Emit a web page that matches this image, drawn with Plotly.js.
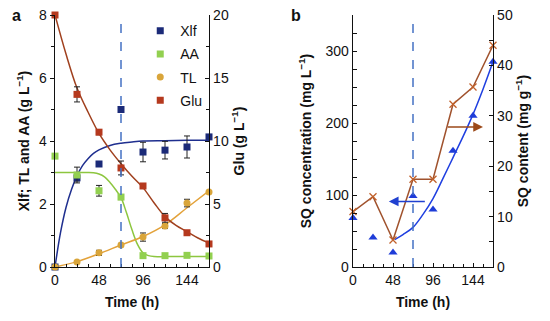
<!DOCTYPE html>
<html>
<head>
<meta charset="utf-8">
<script src="https://cdn.plot.ly/plotly-3.0.1.min.js"></script>
<style>html,body{margin:0;padding:0;background:#fff;}#chart{width:550px;height:321px;}</style>
</head>
<body>
<div id="chart"></div>
<script>
// ---- Panel a data ----
const time = [0, 24, 48, 72, 96, 120, 144, 168];
const xlf = [0, 2.83, 3.27, 5.0, 3.65, 3.71, 3.81, 4.13];
const xlfErr = [0, 0.1, 0.08, 0.08, 0.31, 0.28, 0.35, 0.05];
const aa = [3.52, 2.92, 2.42, 2.22, 0.36, 0.36, 0.37, 0.35];
const aaErr = [0, 0.25, 0.17, 0.08, 0.04, 0.03, 0.03, 0.03];
const tl = [0, 0.16, 0.45, 0.70, 0.95, 1.30, 2.03, 2.38];
const tlErr = [0, 0.03, 0.08, 0.05, 0.13, 0.08, 0.12, 0.05];
const glu = [20, 13.7, 10.7, 7.86, 6.43, 3.9, 2.72, 1.83];
const gluErr = [0, 0.6, 0.2, 0.55, 0.15, 0.35, 0.15, 0.15];

// fitted curves
const xlfFitT = [0, 6, 12, 18, 24, 30, 36, 42, 48, 60, 72, 84, 96, 120, 144, 168];
const xlfFit = [0, 1.09, 1.89, 2.46, 2.9, 3.22, 3.44, 3.61, 3.72, 3.86, 3.93, 3.97, 4.0, 4.01, 4.02, 4.02];
const aaFitT = [0, 12, 24, 36, 42, 48, 54, 60, 66, 72, 78, 84, 90, 96, 102, 108, 120, 144, 168];
const aaFit = [3.0, 3.0, 3.0, 3.0, 2.99, 2.95, 2.86, 2.68, 2.46, 2.2, 1.72, 1.18, 0.72, 0.45, 0.36, 0.33, 0.33, 0.33, 0.33];
const tlFitT = [0, 24, 48, 72, 96, 120, 144, 168];
const tlFit = [0, 0.17, 0.42, 0.70, 0.97, 1.34, 1.88, 2.42];
const gluFitT = [0, 12, 24, 36, 48, 60, 72, 84, 96, 108, 120, 132, 144, 156, 168];
const gluFit = [20, 16.9, 14.2, 12.3, 10.6, 9.3, 8.2, 7.2, 6.3, 5.1, 4.0, 3.3, 2.8, 2.3, 1.9];

// ---- Panel b data ----
const sqConc = [68, 41, 20, 98.6, 80, 161.5, 210, 285];
const sqContent = [11.0, 13.95, 5.36, 17.4, 17.4, 32.3, 35.7, 44.0];
const sqFitT = [50, 60, 72, 84, 96, 108, 120, 132, 144, 156, 168];
const sqFit = [38, 45, 55, 73, 95, 123, 152, 181, 212, 247, 285];

const navy = '#1B2A78', green = '#92D050', gold = '#D9A53A', red = '#B5391E';
const font = 'Liberation Sans, Arial, sans-serif';

function errY(a){ return {type:'data', array:a, visible:true, color:'#222', thickness:1, width:3}; }

const traces = [
  {x:xlfFitT, y:xlfFit, mode:'lines', line:{color:'#1F2F8F', width:1.5, shape:'spline'}, xaxis:'x', yaxis:'y', showlegend:false, hoverinfo:'skip'},
  {x:aaFitT, y:aaFit, mode:'lines', line:{color:'#8DC63F', width:1.5, shape:'spline'}, xaxis:'x', yaxis:'y', showlegend:false, hoverinfo:'skip'},
  {x:tlFitT, y:tlFit, mode:'lines', line:{color:'#E3A23A', width:1.5, shape:'spline'}, xaxis:'x', yaxis:'y', showlegend:false, hoverinfo:'skip'},
  {x:gluFitT, y:gluFit, mode:'lines', line:{color:'#A0401E', width:1.5, shape:'spline'}, xaxis:'x', yaxis:'y2', showlegend:false, hoverinfo:'skip'},
  {x:time, y:xlf, name:'Xlf', mode:'markers', marker:{symbol:'square', size:7, color:navy}, error_y:errY(xlfErr), xaxis:'x', yaxis:'y', legendgroup:'g1', cliponaxis:false},
  {x:time, y:aa, name:'AA', mode:'markers', marker:{symbol:'square', size:7, color:green}, error_y:errY(aaErr), xaxis:'x', yaxis:'y', legendgroup:'g2', cliponaxis:false},
  {x:time, y:tl, name:'TL', mode:'markers', marker:{symbol:'circle', size:7, color:gold}, error_y:errY(tlErr), xaxis:'x', yaxis:'y', legendgroup:'g3', cliponaxis:false},
  {x:time, y:glu, name:'Glu', mode:'markers', marker:{symbol:'square', size:7, color:red}, error_y:errY(gluErr), xaxis:'x', yaxis:'y2', legendgroup:'g4', cliponaxis:false},
  // panel b
  {x:sqFitT, y:sqFit, mode:'lines', line:{color:'#1F3FE0', width:1.5, shape:'spline'}, xaxis:'x2', yaxis:'y3', showlegend:false, hoverinfo:'skip'},
  {x:time, y:sqConc, mode:'markers', marker:{symbol:'triangle-up', size:8, color:'#1E3CD8'}, xaxis:'x2', yaxis:'y3', showlegend:false, cliponaxis:false},
  {x:time, y:sqContent, mode:'lines+markers', line:{color:'#A0522D', width:1.5}, marker:{symbol:'x-thin', size:7, color:'#C0602A', line:{color:'#C0602A', width:1.3}}, xaxis:'x2', yaxis:'y4', showlegend:false, cliponaxis:false}
];

const tickF = {family:font, size:14, color:'#111'};
const titleF = {family:font, size:14, color:'#111'};
const yDom = [54/321, 306/321];

const layout = {
  width:550, height:321,
  margin:{l:0, r:0, t:0, b:0},
  paper_bgcolor:'#fff', plot_bgcolor:'rgba(0,0,0,0)',
  font:{family:font, color:'#111'},
  showlegend:true,
  legend:{x:0.255, y:0.953, xanchor:'left', yanchor:'top', bgcolor:'rgba(0,0,0,0)', font:{family:font, size:14}, tracegroupgap:2, itemwidth:30},
  xaxis:{domain:[55/550, 209/550], range:[0,168], tickvals:[0,48,96,144], showline:true, linecolor:'#111', linewidth:1.3, ticks:'inside', ticklen:4, tickcolor:'#111', minor:{dtick:12, ticks:'inside', ticklen:3, tickcolor:'#111'}, showgrid:false, zeroline:false, tickfont:tickF, title:{text:'<b>Time (h)</b>', font:titleF, standoff:10}, anchor:'y'},
  yaxis:{domain:yDom, range:[0,8], dtick:2, showline:true, linecolor:'#111', linewidth:1.3, ticks:'outside', ticklen:4, tickcolor:'#111', minor:{dtick:1, ticks:'outside', ticklen:3, tickcolor:'#111'}, showgrid:false, zeroline:false, tickfont:tickF, title:{text:'<b>Xlf; TL and AA (g L<sup>−1</sup>)</b>', font:titleF, standoff:6}, anchor:'x'},
  yaxis2:{domain:yDom, range:[0,20], dtick:5, overlaying:'y', side:'right', showline:true, linecolor:'#111', linewidth:1.3, ticks:'inside', ticklen:4, tickcolor:'#111', minor:{dtick:2.5, ticks:'inside', ticklen:3, tickcolor:'#111'}, showgrid:false, zeroline:false, tickfont:tickF, title:{text:'<b>Glu (g L<sup>−1</sup>)</b>', font:titleF, standoff:6}, anchor:'x'},
  xaxis2:{domain:[353/550, 493/550], range:[0,168], tickvals:[0,48,96,144], showline:true, linecolor:'#111', linewidth:1.3, ticks:'inside', ticklen:4, tickcolor:'#111', minor:{dtick:12, ticks:'inside', ticklen:3, tickcolor:'#111'}, showgrid:false, zeroline:false, tickfont:tickF, title:{text:'<b>Time (h)</b>', font:titleF, standoff:10}, anchor:'y3'},
  yaxis3:{domain:yDom, range:[0,350], tickvals:[0,100,200,300], showline:true, linecolor:'#111', linewidth:1.3, ticks:'inside', ticklen:4, tickcolor:'#111', minor:{dtick:25, ticks:'inside', ticklen:4, tickcolor:'#111'}, showgrid:false, zeroline:false, tickfont:tickF, title:{text:'<b>SQ concentration (mg L<sup>−1</sup>)</b>', font:titleF, standoff:10}, anchor:'x2'},
  yaxis4:{domain:yDom, range:[0,50], dtick:10, overlaying:'y3', side:'right', showline:true, linecolor:'#111', linewidth:1.3, ticks:'inside', ticklen:4, tickcolor:'#111', minor:{dtick:5, ticks:'inside', ticklen:4, tickcolor:'#111'}, showgrid:false, zeroline:false, tickfont:tickF, title:{text:'<b>SQ content (mg g<sup>−1</sup>)</b>', font:titleF, standoff:6}, anchor:'x2'},
  shapes:[
    {type:'line', xref:'x', yref:'y domain', x0:72, x1:72, y0:0, y1:1, line:{color:'#4472C4', width:1.5, dash:'dash'}},
    {type:'line', xref:'x2', yref:'y3 domain', x0:72, x1:72, y0:0, y1:0.99, line:{color:'#4472C4', width:1.5, dash:'dash'}}
  ],
  annotations:[
    {text:'<b>a</b>', xref:'paper', yref:'paper', x:10/550, y:1-15/321, xanchor:'left', yanchor:'middle', showarrow:false, font:{family:font, size:16, color:'#111'}},
    {text:'<b>b</b>', xref:'paper', yref:'paper', x:289/550, y:1-15/321, xanchor:'left', yanchor:'middle', showarrow:false, font:{family:font, size:16, color:'#111'}},
    {x:43, y:91, xref:'x2', yref:'y3', ax:88, ay:91, axref:'x2', ayref:'y3', showarrow:true, arrowhead:2, arrowsize:1.3, arrowwidth:1.5, arrowcolor:'#2040D0', text:''},
    {x:156, y:27.8, xref:'x2', yref:'y4', ax:112, ay:27.8, axref:'x2', ayref:'y4', showarrow:true, arrowhead:2, arrowsize:1.3, arrowwidth:1.5, arrowcolor:'#9C4A1A', text:''}
  ]
};

Plotly.newPlot('chart', traces, layout, {displayModeBar:false, staticPlot:true});
</script>
</body>
</html>
